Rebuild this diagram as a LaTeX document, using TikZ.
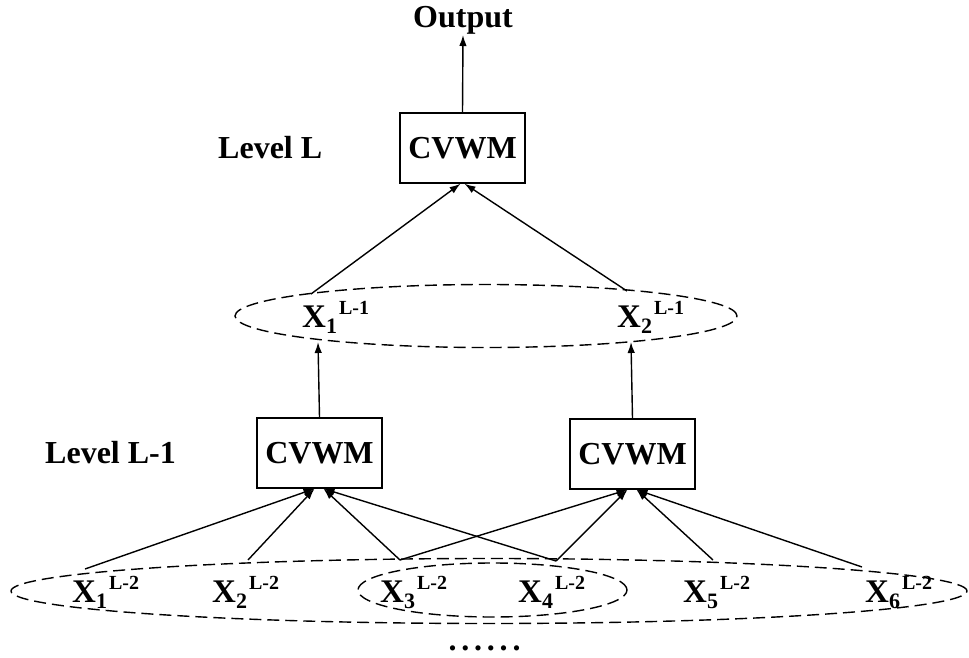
\documentclass[tikz,border=0pt]{standalone}
\usepackage{fontspec}
\setmainfont{Liberation Serif}
\usetikzlibrary{arrows.meta,shapes.geometric}

% variable name X with a subscript followed by a superscript
\newcommand\xlab[2]{X\raisebox{-6pt}{\fontsize{22}{22}\selectfont #1}\kern2pt\raisebox{13pt}{\fontsize{20}{20}\selectfont #2}}

\tikzset{
  every picture/.style={x=1pt,y=-1pt},
  arr/.style={line width=1.4pt,-{Latex[length=11pt,width=7.5pt]}},
  cvwm/.style={draw,line width=1.4pt,minimum width=125pt,minimum height=70pt,inner sep=0pt,
               font=\fontsize{32}{36}\selectfont\bfseries},
  group/.style={draw,ellipse,line width=1.4pt,dash pattern=on 12pt off 6pt,inner sep=0pt},
  lab/.style={anchor=base west,inner sep=0pt,font=\fontsize{33}{36}\selectfont\bfseries},
  title/.style={inner sep=0pt,font=\fontsize{32}{36}\selectfont\bfseries},
}

\begin{document}
\begin{tikzpicture}
\useasboundingbox (0,0) rectangle (969,658);

% output and top level
\node[title,anchor=base] (out) at (463,28) {Output};
\node[cvwm] (top) at (462.5,148) {CVWM};
\node[lab,font=\fontsize{32}{36}\selectfont\bfseries] (levL) at (218,158) {Level L};

% level L-1 outputs
\node[group,minimum width=502pt,minimum height=63pt] (mid) at (486,316) {};
\node[lab] (y1) at (302,327) {\xlab{1}{L-1}};
\node[lab] (y2) at (617,327) {\xlab{2}{L-1}};
\coordinate (m1) at (311,294);
\coordinate (m2) at (627,291);
\coordinate (m1b) at (318,342);
\coordinate (m2b) at (631,342);

% level L-1 blocks
\node[cvwm] (lbox) at (319.5,453) {CVWM};
\node[cvwm] (rbox) at (632.5,454) {CVWM};
\node[lab,font=\fontsize{32}{36}\selectfont\bfseries] (levL1) at (45,463) {Level L-1};

% level L-2 inputs: the whole set and the shared pair
\node[group,minimum width=956pt,minimum height=65pt] (gall) at (489,591) {};
\node[group,minimum width=269pt,minimum height=54pt] (gm) at (492.5,590) {};
\node[lab] (x1) at (72,602) {\xlab{1}{L-2}};
\node[lab] (x2) at (212,602) {\xlab{2}{L-2}};
\node[lab] (x3) at (380,602) {\xlab{3}{L-2}};
\node[lab] (x4) at (518,602) {\xlab{4}{L-2}};
\node[lab] (x5) at (683,602) {\xlab{5}{L-2}};
\node[lab] (x6) at (865,602) {\xlab{6}{L-2}};
\coordinate (t1) at (85,569);
\coordinate (t2) at (248,560);
\coordinate (t3) at (400,560);
\coordinate (t4) at (556,561);
\coordinate (t5) at (713,560);
\coordinate (t6) at (862,567);

\node[title,anchor=base,font=\fontsize{32}{32}\selectfont\bfseries] (dots) at (484.5,650)
  {.\kern4.8pt.\kern4.8pt.\kern4.8pt.\kern4.8pt.\kern4.8pt.};

% connectors
\draw[arr] (top.north) -- (out.south);
\draw[arr] (m1) -- ([xshift=-2pt]top.south);
\draw[arr] (m2) -- ([xshift=2pt]top.south);
\draw[arr] (lbox.north) -- (m1b);
\draw[arr] (rbox.north) -- (m2b);

\draw[arr] (t1) -- ([xshift=-5pt]lbox.south);
\draw[arr] (t2) -- ([xshift=-5pt]lbox.south);
\draw[arr] (t3) -- ([xshift=4pt]lbox.south);
\draw[arr] (t4) -- ([xshift=4pt]lbox.south);

\draw[arr] (t3) -- ([xshift=-5pt]rbox.south);
\draw[arr] (t4) -- ([xshift=-5pt]rbox.south);
\draw[arr] (t5) -- ([xshift=4pt]rbox.south);
\draw[arr] (t6) -- ([xshift=4pt]rbox.south);
\end{tikzpicture}
\end{document}
